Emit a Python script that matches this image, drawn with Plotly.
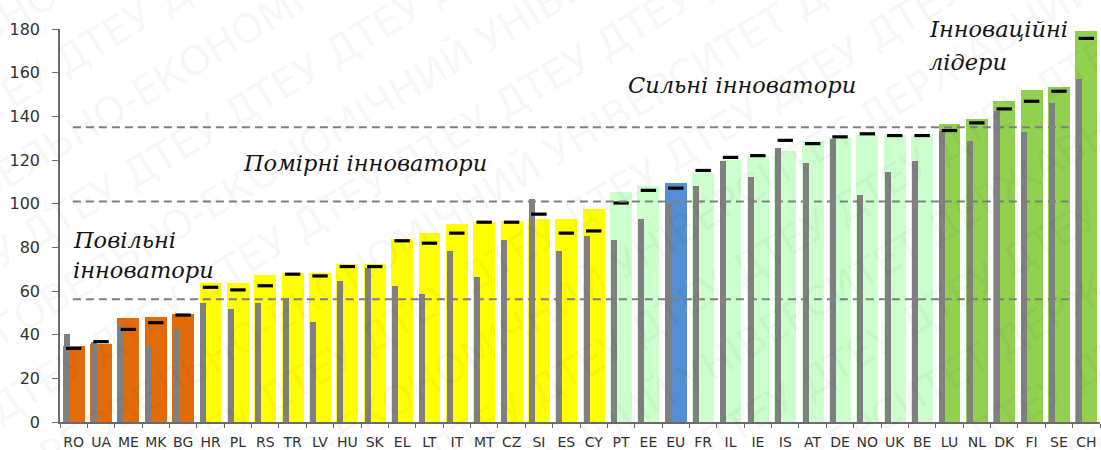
import math
import plotly.graph_objects as go

countries = ["RO", "UA", "ME", "MK", "BG", "HR", "PL", "RS", "TR", "LV", "HU", "SK", "EL",
             "LT", "IT", "MT", "CZ", "SI", "ES", "CY", "PT", "EE", "EU", "FR", "IL", "IE",
             "IS", "AT", "DE", "NO", "UK", "BE", "LU", "NL", "DK", "FI", "SE", "CH"]
groups = (["modest"] * 5 + ["moderate"] * 15 + ["strong"] * 2 + ["eu"] + ["strong"] * 9
          + ["leader"] * 6)
current = [34.9, 35.6, 47.5, 48.2, 49.4, 63.8, 63.8, 67.4, 68.4, 68.4, 72.4, 72.4, 83.7,
           86.5, 90.8, 91.8, 92.1, 92.9, 92.9, 97.5, 105.3, 107.9, 109.4, 114.0, 120.2, 121.7,
           124.0, 128.6, 130.6, 131.6, 131.5, 131.6, 136.7, 139.0, 146.9, 152.0, 153.4, 179.1]
previous = [40.1, 36.7, 44.4, 34.2, 42.4, 54.6, 51.6, 54.6, 56.6, 45.9, 64.6, 70.4, 62.5,
            58.6, 78.4, 66.6, 83.4, 102.1, 78.4, 85.4, 83.4, 92.9, 100.3, 107.9, 119.4, 112.2,
            125.5, 118.6, 129.7, 104.1, 114.4, 119.4, 133.2, 128.6, 142.3, 132.7, 146.2, 156.9]
marker_year = [33.7, 36.8, 42.4, 45.5, 49.0, 61.7, 60.5, 62.4, 67.7, 66.9, 71.2, 71.2, 83.0,
               81.9, 86.5, 91.5, 91.5, 95.2, 86.5, 87.5, 100.3, 106.1, 107.1, 115.2, 121.2, 122.0,
               129.0, 127.5, 130.6, 132.0, 131.2, 131.2, 133.5, 137.0, 143.4, 146.9, 151.5, 175.7]
thresholds = [56.2, 101.0, 135.0]

group_colors = {"modest": "#E36C0A", "moderate": "#FFFF00", "strong": "#CCFFCC",
                "eu": "#558ED5", "leader": "#92D050"}

fig = go.Figure()
fig.add_trace(go.Bar(x=countries, y=current, width=0.8, offset=-0.4,
                     marker=dict(color=[group_colors[g] for g in groups], line=dict(width=0)),
                     showlegend=False, hoverinfo="x+y"))
fig.add_trace(go.Bar(x=countries, y=previous, width=0.22, offset=-0.37,
                     marker=dict(color="#808080", line=dict(width=0)),
                     showlegend=False, hoverinfo="x+y"))
fig.add_trace(go.Scatter(x=countries, y=marker_year, mode="markers",
                         marker=dict(symbol="line-ew", size=11,
                                     line=dict(width=3.2, color="#000000")),
                         showlegend=False, hoverinfo="x+y"))

for t in thresholds:
    fig.add_shape(type="line", xref="x", yref="y", x0=-0.03, x1=36.5, y0=t, y1=t,
                  line=dict(color="#808080", width=2, dash="8px,5px"), layer="above")

# watermark
W, H = 1101, 450
L, R, T, B = 60, 1, 29, 28
pw, ph = W - L - R, H - T - B
ang = 31
wm_lines = ["ДТЕУ ДТЕУ ДТЕУ ДТЕУ ДТЕУ ДТЕУ ДТЕУ ДТЕУ ДТЕУ ДТЕУ ДТЕУ ДТЕУ",
            "ДЕРЖАВНИЙ ТОРГОВЕЛЬНО-ЕКОНОМІЧНИЙ УНІВЕРСИТЕТ ДЕРЖАВНИЙ ТОРГОВЕЛЬНО"]
annotations = []
nx, ny = math.sin(math.radians(ang)), math.cos(math.radians(ang))
for k in range(-7, 8):
    cx = 560 + k * 66 * nx
    cy = 225 + k * 66 * ny
    annotations.append(dict(text=wm_lines[k % 2], xref="paper", yref="paper",
                            x=(cx - L) / pw, y=(H - B - cy) / ph, showarrow=False,
                            textangle=-ang, xanchor="center", yanchor="middle",
                            font=dict(family="DejaVu Sans", size=40,
                                      color="rgba(0,0,0,0.055)")))

label_font = dict(family="DejaVu Serif", size=22.5, color="#141414")
labels = [
    ("Повільні", 71, 240),
    ("інноватори", 71, 270),
    ("Помірні інноватори", 241, 163),
    ("Сильні інноватори", 626, 85),
    ("Інноваційні", 927, 29),
    ("лідери", 927, 62),
]
for txt, px, py in labels:
    annotations.append(dict(text="<i>" + txt + "</i>", xref="paper", yref="paper",
                            x=(px - L) / pw, y=(H - B - py) / ph, showarrow=False,
                            xanchor="left", yanchor="middle", font=label_font))

fig.update_layout(
    width=W, height=H,
    margin=dict(l=L, r=R, t=T, b=B, pad=0),
    paper_bgcolor="white", plot_bgcolor="white",
    barmode="overlay", bargap=0,
    annotations=annotations,
    xaxis=dict(type="category", range=[-0.5, 37.5], showline=True, linecolor="#6b6b6b",
               linewidth=1.5, ticks="outside", tickson="boundaries", ticklen=4,
               tickcolor="#6b6b6b", tickangle=0, ticklabelstandoff=6,
               tickfont=dict(family="DejaVu Sans", size=14, color="#333333"),
               showgrid=False, zeroline=False, fixedrange=True),
    yaxis=dict(range=[0, 180], dtick=20, showline=True, linecolor="#6b6b6b", linewidth=1.5,
               ticks="outside", ticklen=6, tickcolor="#6b6b6b", ticklabelstandoff=9,
               tickfont=dict(family="DejaVu Sans", size=16, color="#333333"),
               showgrid=False, zeroline=False, fixedrange=True),
)

fig.write_html("out.html", config={"displayModeBar": False},
               post_script="document.body.style.margin='0';document.body.style.overflow='hidden';")
